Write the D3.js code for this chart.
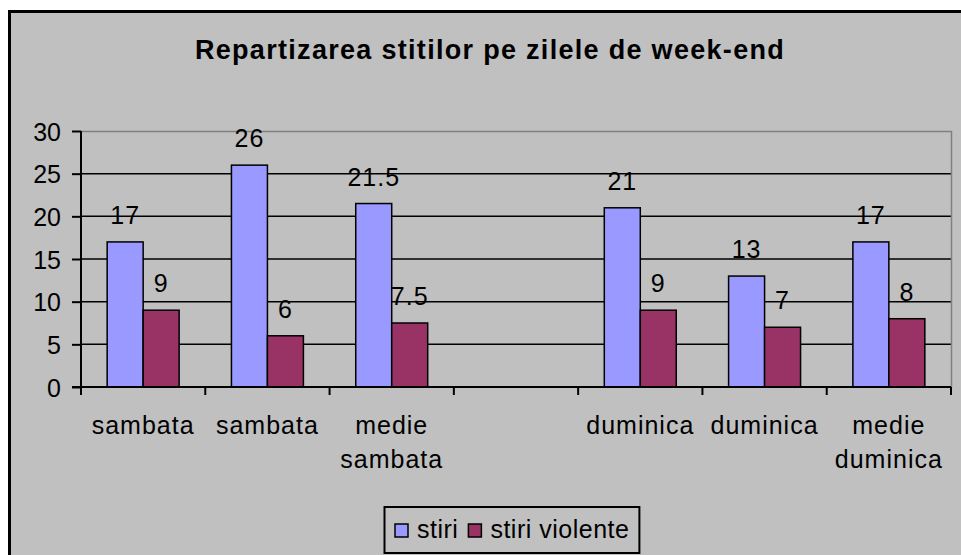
<html>
<head>
  <meta charset="utf-8">
  <style>
    body { margin: 0; background: white; }
    svg { display: block; }
    text { font-family: Arial, "Liberation Sans", sans-serif; fill: black; }
  </style>
</head>
<body>
  <svg id="chart"></svg>
  <script src="https://cdn.jsdelivr.net/npm/d3@7"></script>
  <script>
    // data
    var categories = ["sambata", "sambata", "medie\nsambata", "", "duminica", "duminica", "medie\nduminica"];
    var seriesNames = ["stiri", "stiri violente"];
    var stiri = [17, 26, 21.5, null, 21, 13, 17];
    var stiriViolente = [9, 6, 7.5, null, 9, 7, 8];
    var yTicks = [0, 5, 10, 15, 20, 25, 30];
    var colors = ["#9999FF", "#993366"];
    var title = "Repartizarea stitilor pe zilele de week-end";

    var width = 961, height = 555;
    var plot = { left: 81, right: 951, top: 131, bottom: 387 };

    var svg = d3.select("#chart").attr("width", width).attr("height", height);

    // chart area
    svg.append("rect")
      .attr("x", 9.5).attr("y", 11.5)
      .attr("width", 1000).attr("height", 600)
      .attr("fill", "#C0C0C0")
      .attr("stroke", "black")
      .attr("stroke-width", 3);

    svg.append("text")
      .attr("x", 490).attr("y", 59)
      .attr("text-anchor", "middle")
      .style("font-size", "27px")
      .style("font-weight", "bold")
      .style("letter-spacing", "1.3px")
      .text(title);

    var idx = categories.map(function (d, i) { return i; });
    var x0 = d3.scaleBand().domain(idx).range([plot.left, plot.right]).padding(0);
    var x1 = d3.scaleBand().domain([0, 1]).range([0, x0.bandwidth()]).paddingInner(0).paddingOuter(0.727);
    var y = d3.scaleLinear().domain([0, 30]).range([plot.bottom, plot.top]);

    // gridlines
    svg.append("g").selectAll("line")
      .data(yTicks.filter(function (d) { return d > 0 && d < 30; }))
      .join("line")
      .attr("x1", plot.left).attr("x2", plot.right)
      .attr("y1", function (d) { return y(d); })
      .attr("y2", function (d) { return y(d); })
      .attr("stroke", "black")
      .attr("stroke-width", 1.5);

    // plot border (top / right in gray)
    svg.append("path")
      .attr("d", "M" + plot.left + "," + (plot.top + 0.5) + "H" + (plot.right + 0.5) + "V" + plot.bottom)
      .attr("fill", "none")
      .attr("stroke", "#808080")
      .attr("stroke-width", 1.5);

    // bars
    var rows = idx.map(function (i) {
      return { i: i, values: [stiri[i], stiriViolente[i]] };
    });
    var groups = svg.append("g").selectAll("g")
      .data(rows)
      .join("g")
      .attr("transform", function (d) { return "translate(" + x0(d.i) + ",0)"; });

    var bars = groups.selectAll("g")
      .data(function (d) {
        return d.values.map(function (v, s) { return { s: s, v: v }; })
          .filter(function (e) { return e.v != null; });
      })
      .join("g");

    bars.append("rect")
      .attr("x", function (d) { return x1(d.s); })
      .attr("y", function (d) { return y(d.v); })
      .attr("width", x1.bandwidth())
      .attr("height", function (d) { return y(0) - y(d.v); })
      .attr("fill", function (d) { return colors[d.s]; })
      .attr("stroke", "black")
      .attr("stroke-width", 1.5);

    bars.append("text")
      .attr("x", function (d) { return x1(d.s) + x1.bandwidth() / 2; })
      .attr("y", function (d) { return y(d.v) - 18; })
      .attr("text-anchor", "middle")
      .style("font-size", "25px")
      .style("letter-spacing", "1px")
      .text(function (d) { return d.v; });

    // y axis
    var yAxis = svg.append("g")
      .attr("transform", "translate(" + plot.left + ",0)")
      .call(d3.axisLeft(y).tickValues(yTicks).tickSize(9).tickPadding(11).tickFormat(d3.format("d")));
    yAxis.select(".domain").remove();
    yAxis.selectAll(".tick line").attr("stroke", "black").attr("stroke-width", 2);
    yAxis.selectAll(".tick text")
      .attr("font-family", null).attr("font-size", null)
      .style("font-size", "25px")
      .attr("dy", "0.36em");
    yAxis.append("line")
      .attr("x1", 0).attr("x2", 0)
      .attr("y1", plot.top).attr("y2", plot.bottom + 8)
      .attr("stroke", "black").attr("stroke-width", 2);

    // x axis: tick marks between categories
    var xg = svg.append("g");
    xg.append("line")
      .attr("x1", plot.left - 9).attr("x2", plot.right)
      .attr("y1", plot.bottom).attr("y2", plot.bottom)
      .attr("stroke", "black").attr("stroke-width", 2);
    var bounds = idx.map(function (i) { return x0(i); }).concat([plot.right]);
    xg.selectAll(".xtick")
      .data(bounds)
      .join("line")
      .attr("class", "xtick")
      .attr("x1", function (d) { return d; }).attr("x2", function (d) { return d; })
      .attr("y1", plot.bottom).attr("y2", plot.bottom + 8)
      .attr("stroke", "black").attr("stroke-width", 2);

    var catText = xg.selectAll(".cat")
      .data(idx)
      .join("text")
      .attr("class", "cat")
      .attr("text-anchor", "middle")
      .style("font-size", "25px")
      .style("letter-spacing", "1px");
    catText.each(function (i) {
      var lines = categories[i].split("\n");
      var t = d3.select(this);
      lines.forEach(function (line, k) {
        t.append("tspan")
          .attr("x", x0(i) + x0.bandwidth() / 2)
          .attr("y", 434 + k * 34)
          .text(line);
      });
    });

    // legend
    var legend = svg.append("g");
    var box = legend.append("rect")
      .attr("x", 384.5).attr("y", 507)
      .attr("height", 46)
      .attr("fill", "#C0C0C0")
      .attr("stroke", "black")
      .attr("stroke-width", 2);
    var lx = 395;
    seriesNames.forEach(function (name, s) {
      legend.append("rect")
        .attr("x", lx).attr("y", 524)
        .attr("width", 13).attr("height", 13)
        .attr("fill", colors[s])
        .attr("stroke", "black")
        .attr("stroke-width", 1.5);
      var t = legend.append("text")
        .attr("x", lx + 22).attr("y", 538)
        .style("font-size", "25px")
        .style("letter-spacing", "0.5px")
        .text(name);
      lx = lx + 22 + t.node().getComputedTextLength() + 10;
    });
    box.attr("width", lx - 384.5);
  </script>
</body>
</html>
